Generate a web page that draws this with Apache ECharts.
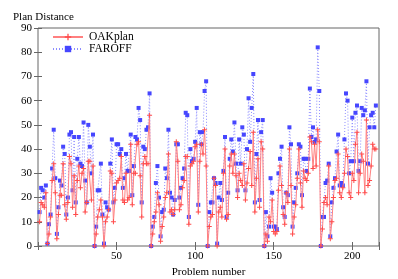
<!DOCTYPE html>
<html>
<head>
<meta charset="utf-8">
<script src="https://cdn.jsdelivr.net/npm/echarts@6/dist/echarts.min.js"></script>
<style>
html,body{margin:0;padding:0;background:#fff;}
#chart{width:398px;height:279px;}
</style>
</head>
<body>
<div id="chart"></div>
<script>
const xTicks = [50, 100, 150, 200];
const yTicks = [0, 10, 20, 30, 40, 50, 60, 70, 80, 90];

const oakplan = [
10,18,17,16,22,1,5,12,27,34,22,3,13,21,21,34,17,11,18,37,
34,16,29,13,27,33,24,30,32,14,18,35,35,19,33,0,5,12,15,19,
12,0,10,12,15,31,30,10,19,26,27,28,37,19,18,30,19,20,42,17,
30,30,42,43,29,12,34,37,34,34,54,0,5,10,14,22,17,2,8,12,
20,22,38,14,15,13,15,43,35,15,17,24,27,37,37,9,33,34,35,41,
42,14,
35,42,38,48,33,0,8,12,13,28,25,0,14,16,12,30,40,11,13,33,
38,30,38,29,20,30,27,25,34,19,26,32,39,25,47,14,28,36,16,43,
40,0,5,2,12,10,19,6,5,6,23,33,25,13,9,22,18,40,25,5,
12,17,28,40,26,16,31,28,27,30,45,43,32,42,33,48,43,0,7,18,
20,17,33,3,10,20,27,28,38,22,20,24,30,40,37,22,20,30,27,42,
47,22,30,38,35,22,52,25,27,33,42,40,40
];

const faroff = [
14,24,23,20,25,1,9,13,32,48,28,5,16,27,25,41,38,13,20,46,
47,23,45,18,36,45,34,33,51,27,18,50,41,30,46,0,8,23,23,34,
13,1,18,16,15,34,44,18,24,42,42,38,40,24,28,38,31,31,46,21,
33,45,44,57,52,18,41,40,48,49,63,0,8,12,26,33,20,4,14,15,
32,28,48,22,20,13,19,42,42,20,24,28,32,55,54,12,40,35,36,43,
57,17,47,42,47,64,68,0,14,18,18,28,26,1,20,26,19,31,45,12,
22,36,44,39,51,34,23,44,34,49,46,23,40,61,43,57,71,18,38,52,
19,47,52,0,14,4,8,28,22,8,8,7,30,36,41,16,12,22,21,49,
42,8,18,24,30,42,41,21,36,36,31,36,65,45,49,43,44,82,64,0,
12,12,26,27,34,4,18,24,28,39,46,25,26,25,44,63,60,30,35,53,
35,55,58,31,35,57,54,56,68,34,49,54,55,49,58
];

const problems = faroff.map((_, i) => i + 1);
const oakData = oakplan.map((v, i) => [problems[i], v]);
const farData = faroff.map((v, i) => [problems[i], v]);

const serif = 'Liberation Serif';
const axisCol = '#666';
const plusPath = 'path://M4,0H6V4H10V6H6V10H4V6H0V4H4Z';

const chart = echarts.init(document.getElementById('chart'), null, {renderer: 'canvas'});
chart.setOption({
  animation: false,
  backgroundColor: '#fff',
  title: {
    text: 'Plan Distance',
    left: 8, top: 7,
    textStyle: {fontFamily: serif, fontSize: 11, fontWeight: 'normal', color: '#000'}
  },
  legend: {
    orient: 'vertical',
    left: 47, top: 26,
    itemWidth: 30, itemHeight: 8, itemGap: 0,
    textStyle: {fontFamily: serif, fontSize: 11.5, color: '#000', padding: [0,0,0,1], lineHeight: 12},
    data: ['OAKplan', 'FAROFF']
  },
  grid: {left: 38, right: 19, top: 28, bottom: 33, show: true, borderColor: axisCol, borderWidth: 1,
    containLabel: false, outerBoundsMode: 'none'},
  xAxis: [{
    type: 'value', min: 0, max: 217, interval: 50,
    name: 'Problem number', nameLocation: 'middle', nameGap: 19,
    nameTextStyle: {fontFamily: serif, fontSize: 11, color: '#000'},
    axisLine: {show: false},
    axisTick: {inside: true, length: 4, lineStyle: {color: axisCol}},
    axisLabel: {fontFamily: serif, fontSize: 11, color: '#000', margin: 5,
      formatter: v => xTicks.includes(v) ? String(v) : ''},
    splitLine: {show: false}
  }, {
    type: 'value', min: 0, max: 217, interval: 50, position: 'top',
    axisLine: {show: false},
    axisTick: {inside: true, length: 4, lineStyle: {color: axisCol}},
    axisLabel: {show: false}, splitLine: {show: false}
  }],
  yAxis: [{
    type: 'value', min: 0, max: 90, interval: 10,
    axisLine: {show: false},
    axisTick: {inside: true, length: 4, lineStyle: {color: axisCol}},
    axisLabel: {fontFamily: serif, fontSize: 11, color: '#000', margin: 6,
      formatter: v => yTicks.includes(v) ? String(v) : ''},
    splitLine: {show: false}
  }, {
    type: 'value', min: 0, max: 90, interval: 10, position: 'right',
    axisLine: {show: false},
    axisTick: {inside: true, length: 4, lineStyle: {color: axisCol}},
    axisLabel: {show: false}, splitLine: {show: false}
  }],
  series: [{
    name: 'OAKplan', type: 'line', data: oakData,
    xAxisIndex: 0, yAxisIndex: 0,
    symbol: plusPath, symbolSize: 5, showAllSymbol: true,
    lineStyle: {color: '#ff8080', width: 1},
    itemStyle: {color: '#ff4c4c'},
    z: 3
  }, {
    name: 'FAROFF', type: 'line', data: farData,
    xAxisIndex: 0, yAxisIndex: 0,
    symbol: 'rect', symbolSize: 4, showAllSymbol: true,
    lineStyle: {color: '#8c8cff', width: 1, type: [1, 2]},
    itemStyle: {color: '#4646ff'},
    z: 2
  }]
});
</script>
</body>
</html>
